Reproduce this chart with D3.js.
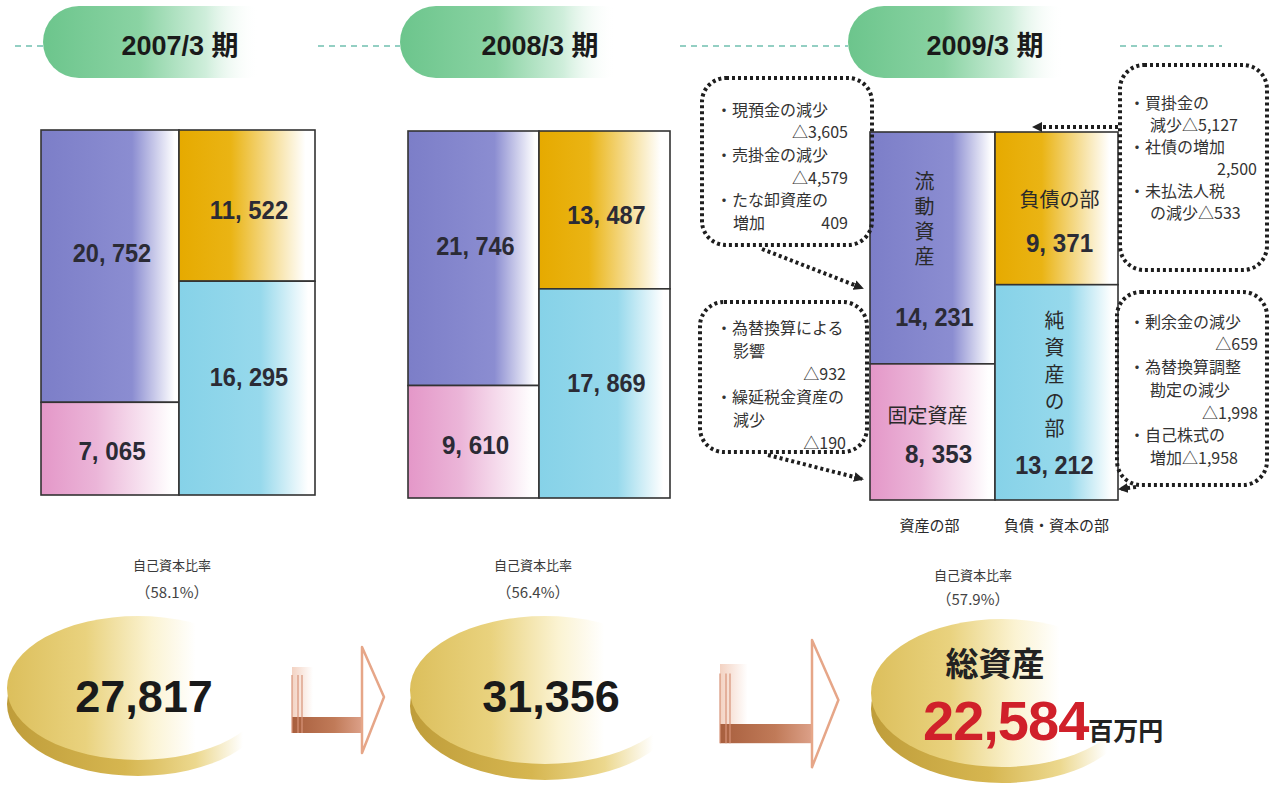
<!DOCTYPE html>
<html>
<head>
<meta charset="utf-8">
<script src="https://cdn.jsdelivr.net/npm/d3@7"></script>
<style>
  body { margin: 0; background: #fff; }
  svg { display: block; }
  .num { font-family: 'Liberation Sans', Arial, sans-serif; }
  .jp { font-family: 'Noto Sans CJK JP', sans-serif; }
  .lat { font-family: 'Liberation Sans', Arial, sans-serif; }
  .vert { writing-mode: vertical-rl; }
</style>
</head>
<body>
<svg id="chart"></svg>
<script>
(function() {

    // Data
    const periods = ['2007/3', '2008/3', '2009/3'];
    const currentAssets = [20752, 21746, 14231];
    const fixedAssets = [7065, 9610, 8353];
    const liabilities = [11522, 13487, 9371];
    const netAssets = [16295, 17869, 13212];
    const totalAssets = [27817, 31356, 22584];
    const equityRatio = ['58.1%', '56.4%', '57.9%'];

    // Change notes for the last period: [left text, right text]
    const noteCurrent = [['・現預金の減少', ''], ['', '△3,605'], ['・売掛金の減少', ''], ['', '△4,579'], ['・たな卸資産の', ''], ['増加', '409']];
    const noteFixed = [['・為替換算による', ''], ['影響', ''], ['', '△932'], ['・繰延税金資産の', ''], ['減少', ''], ['', '△190']];
    const noteLiab = [['・買掛金の', ''], ['減少△5,127', ''], ['・社債の増加', ''], ['', '2,500'], ['・未払法人税', ''], ['の減少△533', '']];
    const noteNet = [['・剰余金の減少', ''], ['', '△659'], ['・為替換算調整', ''], ['勘定の減少', ''], ['', '△1,998'], ['・自己株式の', ''], ['増加△1,958', '']];

    const w = 1277;
    const h = 787;

    const svg = d3.select('#chart')
        .attr('width', w)
        .attr('height', h);

    const defs = svg.append('defs');

    const addGradient = (id, stops) => {
        const g = defs.append('linearGradient')
            .attr('id', id)
            .attr('x1', 0).attr('x2', 1).attr('y1', 0).attr('y2', 0);
        stops.forEach(([o, c, op]) => {
            g.append('stop')
                .attr('offset', o)
                .attr('stop-color', c)
                .attr('stop-opacity', op === undefined ? 1 : op);
        });
    };

    addGradient('g-current', [[0, '#7c7ec8'], [0.66, '#8b8dd1'], [0.97, '#ffffff']]);
    addGradient('g-fixed', [[0, '#e497c8'], [0.4, '#ebb5d8'], [0.95, '#ffffff']]);
    addGradient('g-liab', [[0, '#e6aa00'], [0.38, '#eab414'], [0.93, '#ffffff']]);
    addGradient('g-net', [[0, '#86d2e8'], [0.6, '#97d9ec'], [0.95, '#ffffff']]);
    addGradient('g-pill', [[0, '#6cc58c'], [0.4, '#8ad3a3'], [0.68, '#cfeedb'], [0.9, '#ffffff', 0]]);
    addGradient('g-disc', [[0, '#dcbf5c'], [0.3, '#e9d27e'], [0.55, '#fbf3d2'], [0.72, '#ffffff']]);
    addGradient('g-rim', [[0, '#bf9d3a'], [0.45, '#d6b650'], [0.72, '#ecd88e'], [0.9, '#ffffff']]);
    addGradient('g-band', [[0, '#a85f3e'], [0.6, '#c07a58'], [1, '#dca088']]);
    addGradient('g-shaft', [[0, '#f3d2c2'], [0.3, '#ffffff'], [1, '#ffffff']]);

    defs.append('marker')
        .attr('id', 'head')
        .attr('viewBox', '0 0 10 10')
        .attr('refX', 8).attr('refY', 5)
        .attr('markerWidth', 10).attr('markerHeight', 10)
        .attr('markerUnits', 'userSpaceOnUse')
        .attr('orient', 'auto')
        .append('path')
        .attr('d', 'M0,0 L10,5 L0,10 Z')
        .attr('fill', '#222');

    // Layout
    const panels = [
        {x0: 41, x1: 179, x2: 315, top: 130, bottom: 495, pill: 43, title: 180, ratio: 172, disc: [138, 688, 131, 72]},
        {x0: 408, x1: 539, x2: 670, top: 131, bottom: 498, pill: 400, title: 540, ratio: 533, disc: [545, 690, 135, 74]},
        {x0: 870, x1: 995, x2: 1118, top: 132, bottom: 500, pill: 848, title: 985, ratio: 973, disc: [1002, 693, 131, 74]}
    ];

    // Dashed header line
    [[15, 43], [318, 400], [680, 848], [1120, 1222]].forEach(([a, b]) => {
        svg.append('line')
            .attr('x1', a).attr('x2', b)
            .attr('y1', 46).attr('y2', 46)
            .attr('stroke', '#93cfc3')
            .attr('stroke-width', 2)
            .attr('stroke-dasharray', '6 5');
    });

    const fmtBlock = v => d3.format(',')(v).replace(',', ', ');
    const fmt = d3.format(',');

    // condensed-looking block figures
    const num = (x, y, v) => {
        const s = fmtBlock(v);
        return svg.append('text')
            .attr('class', 'num')
            .attr('x', x).attr('y', y)
            .attr('text-anchor', 'middle')
            .attr('font-size', 25)
            .attr('font-weight', 'bold')
            .attr('fill', '#2b2b35')
            .attr('textLength', s.length * 11.2)
            .attr('lengthAdjust', 'spacingAndGlyphs')
            .text(s);
    };

    panels.forEach((p, i) => {

        // Header pill
        svg.append('rect')
            .attr('x', p.pill).attr('y', 6)
            .attr('width', 240).attr('height', 72)
            .attr('rx', 36)
            .attr('fill', 'url(#g-pill)');

        const title = svg.append('text')
            .attr('x', p.title).attr('y', 55)
            .attr('text-anchor', 'middle')
            .attr('font-size', 27)
            .attr('font-weight', 'bold')
            .attr('fill', '#1a1a1a');
        title.append('tspan').attr('class', 'lat').text(periods[i] + ' ');
        title.append('tspan').attr('class', 'jp').text('期');

        // Scales
        const yLeft = d3.scaleLinear()
            .domain([0, currentAssets[i] + fixedAssets[i]])
            .range([p.top, p.bottom]);
        const yRight = d3.scaleLinear()
            .domain([0, liabilities[i] + netAssets[i]])
            .range([p.top, p.bottom]);

        const blocks = [
            {key: 'current', x: p.x0, x2: p.x1, y: yLeft(0), y2: yLeft(currentAssets[i]), v: currentAssets[i]},
            {key: 'fixed', x: p.x0, x2: p.x1, y: yLeft(currentAssets[i]), y2: yLeft(currentAssets[i] + fixedAssets[i]), v: fixedAssets[i]},
            {key: 'liab', x: p.x1, x2: p.x2, y: yRight(0), y2: yRight(liabilities[i]), v: liabilities[i]},
            {key: 'net', x: p.x1, x2: p.x2, y: yRight(liabilities[i]), y2: yRight(liabilities[i] + netAssets[i]), v: netAssets[i]}
        ];

        svg.append('g')
            .selectAll('rect')
            .data(blocks)
            .join('rect')
            .attr('x', d => d.x)
            .attr('y', d => d.y)
            .attr('width', d => d.x2 - d.x)
            .attr('height', d => d.y2 - d.y)
            .attr('fill', d => `url(#g-${d.key})`)
            .attr('stroke', '#333')
            .attr('stroke-width', 1.6);

        const last = i === panels.length - 1;

        if (!last) {
            blocks.forEach(d => {
                const hgt = d.y2 - d.y;
                const f = hgt > 180 ? 0.45 : 0.53;
                num((d.x + d.x2) / 2 + 2, d.y + hgt * f + 9, d.v);
            });
        } else {
            const [cur, fix, lia, net] = blocks;
            const cx = d => (d.x + d.x2) / 2;
            const jp = (x, y, t, size) => svg.append('text')
                .attr('class', 'jp')
                .attr('x', x).attr('y', y)
                .attr('text-anchor', 'middle')
                .attr('font-size', size || 20)
                .attr('fill', '#2a2a2a')
                .text(t);
            const vert = (x, y, t, gap) => svg.append('text')
                .attr('class', 'jp vert')
                .attr('x', x).attr('y', y)
                .attr('font-size', 20)
                .attr('letter-spacing', gap)
                .attr('fill', '#2a2a2a')
                .text(t);

            vert(cx(cur) - 8, cur.y + 39, '流動資産', 5);
            num(cx(cur) + 2, cur.y + 194, cur.v);

            jp(cx(fix) - 5, fix.y + 59, '固定資産');
            num(cx(fix) + 6, fix.y + 99, fix.v);

            jp(cx(lia) + 3, (lia.y + lia.y2) / 2 - 1, '負債の部');
            num(cx(lia) + 3, (lia.y + lia.y2) / 2 + 44, lia.v);

            vert(cx(net) - 2, net.y2 - 190, '純資産の部', 7);
            num(cx(net) - 2, net.y2 - 26, net.v);

            jp(cx(cur) - 3, 531, '資産の部', 15);
            jp(cx(lia) + 0, 531, '負債・資本の部', 15);
        }

        // Equity ratio
        svg.append('text')
            .attr('class', 'jp')
            .attr('x', p.ratio).attr('y', last ? 580 : 570)
            .attr('text-anchor', 'middle')
            .attr('font-size', 13)
            .attr('fill', '#3a3a3a')
            .text('自己資本比率');
        svg.append('text')
            .attr('class', 'jp')
            .attr('x', p.ratio).attr('y', last ? 605 : 598)
            .attr('text-anchor', 'middle')
            .attr('font-size', 15)
            .attr('fill', '#444')
            .text(`（${equityRatio[i]}）`);

        // Disc
        const [dx, dy, rx, ry] = p.disc;
        svg.append('ellipse')
            .attr('cx', dx).attr('cy', dy + 16)
            .attr('rx', rx).attr('ry', ry)
            .attr('fill', 'url(#g-rim)');
        svg.append('ellipse')
            .attr('cx', dx).attr('cy', dy)
            .attr('rx', rx).attr('ry', ry)
            .attr('fill', 'url(#g-disc)');

        if (!last) {
            svg.append('text')
                .attr('class', 'lat')
                .attr('x', dx + 6).attr('y', 712)
                .attr('text-anchor', 'middle')
                .attr('font-size', 45)
                .attr('font-weight', 'bold')
                .attr('fill', '#1a1a1a')
                .text(fmt(totalAssets[i]));
        } else {
            svg.append('text')
                .attr('class', 'jp')
                .attr('x', 995).attr('y', 676)
                .attr('text-anchor', 'middle')
                .attr('font-size', 33)
                .attr('font-weight', 'bold')
                .attr('fill', '#222')
                .text('総資産');
            const t = svg.append('text')
                .attr('x', 923).attr('y', 740)
                .attr('font-weight', 'bold');
            t.append('tspan')
                .attr('class', 'lat')
                .attr('font-size', 56)
                .attr('fill', '#d0202a')
                .attr('letter-spacing', -1)
                .text(fmt(totalAssets[i]));
            t.append('tspan')
                .attr('class', 'jp')
                .attr('font-size', 25)
                .attr('fill', '#222')
                .text('百万円');
        }
    });

    // Block arrows between the discs
    const blockArrow = (x0, yc, len, s) => {
        const g = svg.append('g');
        const headBase = x0 + len;
        g.append('rect')
            .attr('x', x0).attr('y', yc - 30 * s)
            .attr('width', len).attr('height', 66 * s)
            .attr('fill', 'url(#g-shaft)');
        g.append('rect')
            .attr('x', x0).attr('y', yc + 20 * s)
            .attr('width', len).attr('height', 16 * s)
            .attr('fill', 'url(#g-band)');
        [0, 6, 10].forEach(o => {
            g.append('line')
                .attr('x1', x0 + o).attr('x2', x0 + o)
                .attr('y1', yc - 22 * s).attr('y2', yc + 36 * s)
                .attr('stroke', '#d8957a')
                .attr('stroke-width', 1.5)
                .attr('opacity', 0.8);
        });
        g.append('path')
            .attr('d', `M${headBase},${yc - 50 * s} L${headBase + 22 * s},${yc} L${headBase},${yc + 56 * s} Z`)
            .attr('fill', '#fff')
            .attr('stroke', '#e6a688')
            .attr('stroke-width', 2.5)
            .attr('stroke-linejoin', 'round');
    };
    blockArrow(292, 697, 70, 1);
    blockArrow(720, 700, 92, 1.2);

    // Dotted callouts
    const callouts = [
        {lines: noteCurrent, x: 702, y: 78, w: 170, h: 167, first: 110, lh: 22.6, bx: 716, ix: 733, rx: 848},
        {lines: noteFixed, x: 700, y: 302, w: 167, h: 150, first: 328, lh: 23, bx: 716, ix: 733, rx: 846},
        {lines: noteLiab, x: 1120, y: 65, w: 147, h: 205, first: 103, lh: 22, bx: 1129, ix: 1150, rx: 1257},
        {lines: noteNet, x: 1117, y: 292, w: 150, h: 193, first: 322, lh: 22.7, bx: 1129, ix: 1150, rx: 1258}
    ];

    callouts.forEach(c => {
        svg.append('rect')
            .attr('x', c.x).attr('y', c.y)
            .attr('width', c.w).attr('height', c.h)
            .attr('rx', 24)
            .attr('fill', 'none')
            .attr('stroke', '#1e1e1e')
            .attr('stroke-width', 4)
            .attr('stroke-dasharray', '3 3');

        const g = svg.append('g')
            .attr('class', 'jp')
            .attr('font-size', 16)
            .attr('fill', '#333');
        c.lines.forEach(([l, r], k) => {
            const y = c.first + k * c.lh;
            if (l) {
                g.append('text')
                    .attr('x', l.startsWith('・') ? c.bx : c.ix)
                    .attr('y', y).attr('dy', '0.36em')
                    .text(l);
            }
            if (r) {
                g.append('text')
                    .attr('x', c.rx)
                    .attr('y', y).attr('dy', '0.36em')
                    .attr('text-anchor', 'end')
                    .text(r);
            }
        });
    });

    // Pointer arrows
    [[762, 249, 862, 288], [768, 455, 862, 479], [1118, 127, 1034, 127], [1136, 487, 1120, 489]].forEach(([a, b, c, d]) => {
        svg.append('line')
            .attr('x1', a).attr('y1', b)
            .attr('x2', c).attr('y2', d)
            .attr('stroke', '#1e1e1e')
            .attr('stroke-width', 4)
            .attr('stroke-dasharray', '3 3')
            .attr('marker-end', 'url(#head)');
    });

})();
</script>
</body>
</html>
